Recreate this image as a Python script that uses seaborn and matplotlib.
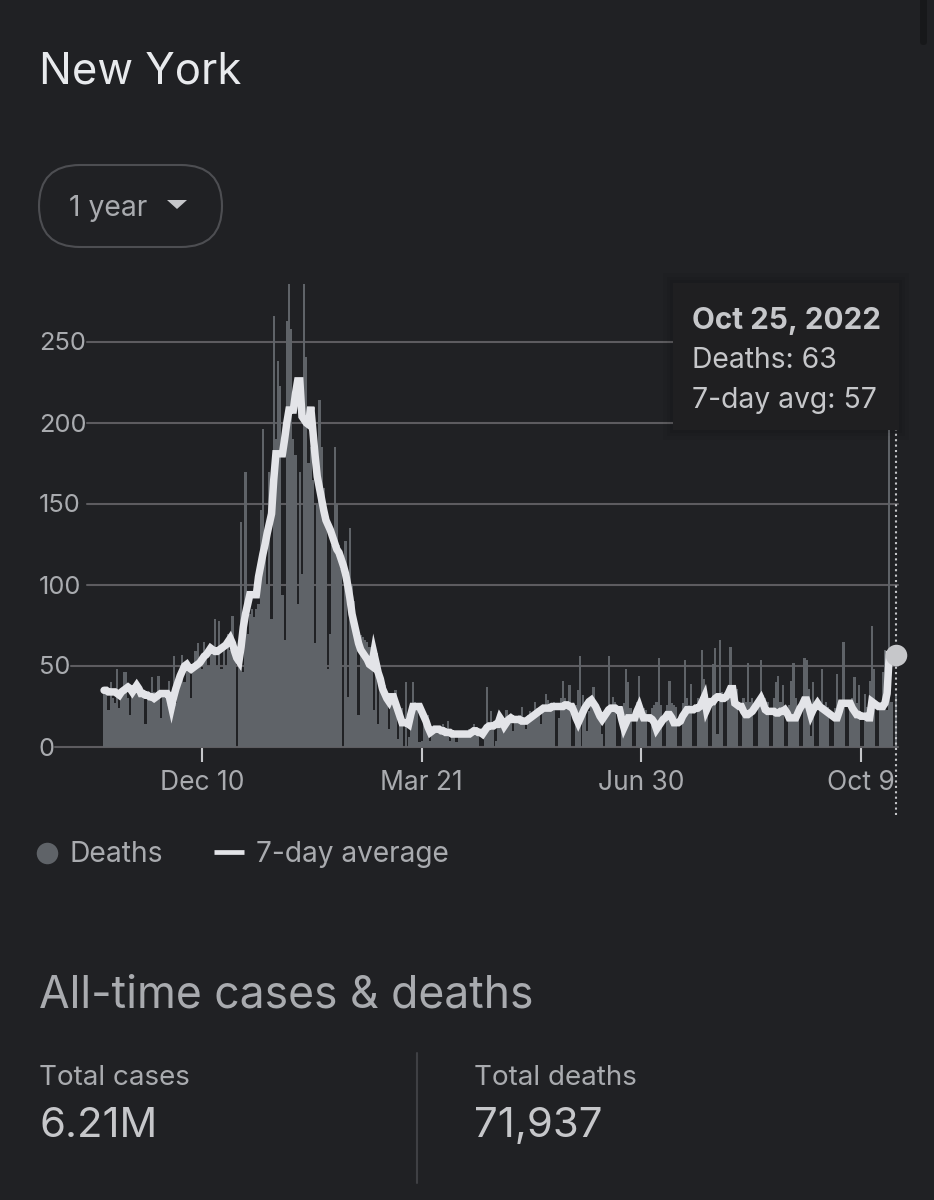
import numpy as np
import pandas as pd
import matplotlib
matplotlib.use('Agg')
import matplotlib.pyplot as plt
import seaborn as sns
from matplotlib.patches import FancyBboxPatch, Rectangle, Polygon

# --- data ---
start_date = '2021-10-26'
end_date = '2022-10-25'

deaths = [
    35, 33, 23, 40, 30, 27, 48, 24, 36, 46,
    46, 30, 20, 38, 35, 40, 34, 32, 33, 14,
    32, 30, 43, 34, 32, 44, 18, 33, 35, 32,
    41, 27, 56, 27, 38, 45, 57, 40, 50, 52,
    30, 48, 59, 64, 52, 48, 65, 55, 50, 58,
    62, 79, 50, 78, 48, 60, 50, 70, 60, 81,
    62, 0, 55, 139, 46, 170, 70, 82, 85, 80,
    85, 88, 146, 196, 130, 100, 170, 79, 266, 190,
    238, 223, 94, 66, 263, 286, 258, 190, 180, 88,
    170, 107, 286, 241, 175, 185, 165, 64, 150, 214,
    185, 160, 140, 48, 70, 125, 185, 150, 125, 110,
    0, 127, 31, 135, 100, 90, 75, 20, 69, 68,
    66, 65, 62, 60, 23, 55, 14, 45, 42, 38,
    33, 11, 30, 28, 35, 5, 25, 24, 0, 40,
    6, 25, 40, 28, 24, 3, 4, 18, 16, 20,
    4, 10, 12, 11, 13, 10, 14, 12, 16, 4,
    9, 10, 3, 9, 10, 9, 8, 10, 11, 12,
    14, 10, 8, 0, 0, 7, 37, 14, 22, 13,
    4, 14, 15, 16, 17, 23, 16, 18, 10, 18,
    19, 20, 25, 16, 11, 20, 22, 21, 28, 24,
    23, 14, 25, 33, 29, 27, 26, 28, 0, 18,
    30, 41, 30, 28, 38, 0, 0, 26, 35, 56,
    32, 28, 10, 22, 30, 37, 28, 26, 24, 8,
    0, 24, 56, 26, 31, 28, 0, 0, 25, 27,
    48, 40, 24, 0, 0, 28, 44, 26, 24, 23,
    0, 0, 24, 26, 28, 55, 26, 0, 0, 26,
    41, 27, 26, 25, 0, 0, 27, 54, 30, 26,
    39, 0, 0, 30, 28, 60, 42, 33, 0, 0,
    51, 61, 8, 66, 34, 0, 0, 32, 62, 36,
    34, 36, 0, 0, 30, 28, 52, 28, 30, 0,
    0, 27, 54, 32, 30, 28, 0, 0, 30, 40,
    44, 28, 38, 0, 0, 26, 41, 52, 30, 25,
    0, 0, 55, 54, 36, 7, 40, 0, 0, 26,
    48, 26, 28, 25, 0, 0, 24, 45, 28, 26,
    65, 0, 0, 28, 30, 43, 27, 38, 0, 0,
    33, 25, 41, 75, 48, 0, 0, 28, 46, 60,
    23, 225, 28, 0, 33,
]

avg_7day = [
    35, 35, 34, 34, 34, 34, 33, 32, 34, 35,
    36, 37, 36, 34, 36, 38, 36, 33, 33, 32,
    32, 31, 31, 30, 31, 32, 33, 33, 33, 33,
    31, 25, 31, 36, 40, 44, 47, 50, 51, 49,
    48, 49, 50, 51, 52, 54, 56, 57, 59, 61,
    60, 59, 59, 60, 61, 62, 63, 65, 67, 64,
    59, 55, 53, 62, 74, 82, 88, 94, 94, 94,
    94, 105, 112, 119, 125, 132, 138, 144, 165, 181,
    181, 181, 181, 190, 200, 208, 208, 208, 218, 226,
    226, 204, 202, 200, 199, 210, 195, 180, 167, 160,
    153, 146, 140, 137, 134, 130, 126, 122, 120, 116,
    112, 107, 100, 92, 82, 76, 70, 64, 60, 58,
    56, 54, 51, 50, 58, 52, 46, 42, 36, 33,
    30, 28, 31, 31, 27, 23, 19, 15, 15, 15,
    14, 20, 25, 25, 25, 25, 22, 19, 16, 12,
    9, 10, 11, 11, 11, 10, 10, 9, 9, 9,
    8, 8, 8, 8, 8, 8, 8, 8, 8, 9,
    10, 10, 9, 9, 8, 10, 12, 13, 13, 13,
    14, 14, 18, 16, 13, 15, 17, 18, 17, 17,
    17, 17, 16, 16, 16, 17, 18, 19, 20, 21,
    22, 23, 24, 24, 24, 24, 25, 25, 25, 25,
    25, 25, 26, 26, 25, 25, 22, 18, 15, 18,
    21, 24, 26, 28, 29, 27, 25, 22, 19, 17,
    19, 21, 23, 24, 24, 24, 23, 23, 17, 12,
    15, 18, 18, 18, 18, 22, 25, 21, 18, 18,
    18, 18, 17, 15, 11, 13, 15, 17, 18, 20,
    20, 18, 15, 15, 15, 16, 19, 21, 23, 23,
    23, 23, 24, 24, 25, 28, 31, 23, 26, 28,
    28, 30, 31, 31, 30, 30, 31, 33, 36, 36,
    27, 26, 25, 25, 22, 20, 20, 21, 22, 24,
    26, 28, 30, 27, 23, 22, 22, 22, 22, 21,
    21, 22, 22, 23, 21, 18, 18, 18, 18, 21,
    24, 26, 29, 29, 25, 20, 23, 25, 27, 25,
    24, 23, 22, 21, 20, 19, 18, 18, 22, 27,
    27, 27, 27, 27, 24, 22, 20, 20, 19, 19,
    19, 18, 18, 28, 27, 26, 25, 25, 25, 27,
    33, 57, 57, 57, 57,
]

y_ticks = [0, 50, 100, 150, 200, 250]
x_tick_labels = ['Dec 10', 'Mar 21', 'Jun 30', 'Oct 9']
x_tick_dates = ['2021-12-10', '2022-03-21', '2022-06-30', '2022-10-09']

# --- colours ---
BG = '#202124'
BAR = '#5f6368'
GRID = '#5d5c60'
LINE = '#e3e4e8'
TEXT = '#a9abaf'
LIGHT = '#c6c7ca'

W, H = 934, 1200
PX_PER_DAY = 2.175
PX_PER_UNIT = 1.62
LEFT, RIGHT, TOP, BASE = 87, 898, 283, 747

dates = pd.date_range(start_date, end_date)
df = pd.DataFrame({'date': dates, 'deaths': deaths, 'avg': avg_7day})
df['day'] = (df['date'] - df['date'].iloc[0]).dt.days

sns.set_theme(style='dark', rc={'axes.facecolor': BG, 'figure.facecolor': BG})
plt.rcParams['font.family'] = ['Inter', 'DejaVu Sans']

fig = plt.figure(figsize=(W / 100, H / 100), dpi=100)
ax = fig.add_axes([LEFT / W, 1 - BASE / H, (RIGHT - LEFT) / W, (BASE - TOP) / H])

sns.barplot(data=df, x='day', y='deaths', native_scale=True, width=1.0,
            color=BAR, saturation=1, linewidth=0, ax=ax, zorder=2)
sns.lineplot(data=df, x='day', y='avg', color=LINE, linewidth=5.4, errorbar=None,
             solid_joinstyle='miter', ax=ax, zorder=3)

ax.set_xlim((LEFT - 103) / PX_PER_DAY - 0.5, (RIGHT - 103) / PX_PER_DAY - 0.5)
ax.set_ylim(0, (BASE - TOP) / PX_PER_UNIT)

for v in y_ticks:
    ax.axhline(v, color=GRID, lw=1.5, zorder=1, clip_on=False)

tick_days = [(pd.Timestamp(d) - dates[0]).days for d in x_tick_dates]
ax.set_xticks(tick_days)
ax.set_xticklabels(x_tick_labels, fontsize=19, color=TEXT)
ax.tick_params(axis='x', length=10.5, width=1.5, color=LIGHT, pad=6, bottom=True)
ax.set_yticks([])
ax.set_xlabel('')
ax.set_ylabel('')
for s in ax.spines.values():
    s.set_visible(False)

# selected day: dotted guide and end dot
last = df.iloc[-1]
ax.plot([last['day'], last['day']], [(BASE - 815) / PX_PER_UNIT, (BASE - 430) / PX_PER_UNIT],
        color=LIGHT, lw=1.5, ls=(0, (1, 1.6)), clip_on=False, zorder=4)
ax.scatter([last['day']], [last['avg']], s=240, color=LIGHT, linewidth=0, zorder=5, clip_on=False)

# everything else sits on an overlay in pixel coordinates
ov = fig.add_axes([0, 0, 1, 1], facecolor='none')
ov.set_xlim(0, W)
ov.set_ylim(H, 0)
ov.axis('off')

# scrollbar in the screenshot
ov.add_patch(FancyBboxPatch((920, -10), 7, 55, boxstyle='round,pad=0,rounding_size=3.5',
                            fc='#17181a', ec='none'))

ov.text(39, 72, 'New York', fontsize=31.4, color='#e8eaed', va='center', ha='left')

ov.add_patch(FancyBboxPatch((39, 165), 183, 82, boxstyle='round,pad=0,rounding_size=41',
                            fc='none', ec='#4d4e52', lw=1.5))
ov.text(69, 209, '1 year', fontsize=20.4, color=TEXT, va='center', ha='left')
ov.add_patch(Polygon([(167, 200), (187, 200), (177, 209)], closed=True, fc=LIGHT, ec='none'))

for v in y_ticks:
    ov.text(39, BASE - v * PX_PER_UNIT + 2, str(v), fontsize=18.3, color=TEXT, va='center', ha='left')
    # each grid line starts just after its label
    line_start = 39 + len(str(v)) * 16
    ov.plot([line_start, LEFT], [BASE - v * PX_PER_UNIT] * 2, color=GRID, lw=1.5)

# tooltip with a soft shadow
for grow, alpha in [(10, 0.03), (6, 0.04), (3, 0.05)]:
    ov.add_patch(Rectangle((673 - grow, 283 - grow), 226 + 2 * grow, 147 + 2 * grow,
                           fc='black', alpha=alpha, ec='none', zorder=6))
ov.add_patch(Rectangle((673, 283), 226, 147, fc='#1f1f21', ec='none', zorder=6))
ov.text(692, 321, 'Oct 25, 2022', fontsize=21.4, fontweight='bold',
        color=LIGHT, va='center', ha='left', zorder=7)
ov.text(692, 361, 'Deaths: 63', fontsize=20.4, color=LIGHT, va='center', ha='left', zorder=7)
ov.text(692, 401, '7-day avg: 57', fontsize=20.4, color=LIGHT, va='center', ha='left', zorder=7)

# legend
ov.scatter([47], [853], s=240, color=BAR, linewidth=0)
ov.text(70, 855, 'Deaths', fontsize=20.4, color=TEXT, va='center', ha='left')
ov.plot([214, 244], [852, 852], color=LINE, lw=3.4, solid_capstyle='butt')
ov.text(256, 855, '7-day average', fontsize=20.2, color=TEXT, va='center', ha='left')

# totals
ov.text(39, 995, 'All-time cases & deaths', fontsize=32, color=TEXT, va='center', ha='left')
ov.text(39, 1078, 'Total cases', fontsize=20, color=TEXT, va='center', ha='left')
ov.text(39, 1126, '6.21M', fontsize=30.2, color=LIGHT, va='center', ha='left')
ov.plot([417, 417], [1053, 1183], color='#3f4044', lw=1.5)
ov.text(474, 1078, 'Total deaths', fontsize=20, color=TEXT, va='center', ha='left')
ov.text(474, 1126, '71,937', fontsize=30.2, color=LIGHT, va='center', ha='left')

fig.savefig('out.png', dpi=100, facecolor=BG)
